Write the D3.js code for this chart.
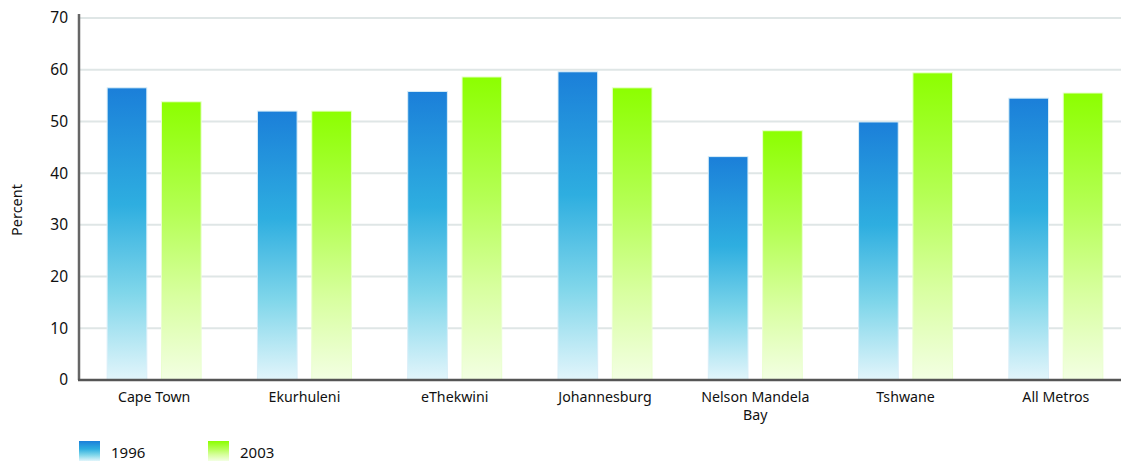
<!DOCTYPE html>
<html><head><meta charset="utf-8">
<script src="https://cdn.jsdelivr.net/npm/d3@7"></script>
<style>body{margin:0;background:#fff}svg{display:block}text{font-family:"Noto Sans","Open Sans",sans-serif;fill:#111}</style>
</head><body><svg id="c" width="1121" height="462"></svg>
<script>
const categories = ["Cape Town","Ekurhuleni","eThekwini","Johannesburg","Nelson Mandela Bay","Tshwane","All Metros"];
const series = ["1996","2003"];
const values1996 = [56.5, 52.0, 55.8, 59.6, 43.2, 49.9, 54.5];
const values2003 = [53.8, 52.0, 58.6, 56.5, 48.2, 59.4, 55.5];
const yTicks = [0,10,20,30,40,50,60,70];

(function(){
const svg = d3.select("#c");
const pL = 79, pR = 1131, pT = 18, pB = 380;
const x = d3.scaleBand().domain(categories).range([pL, pR]);
const y = d3.scaleLinear().domain([0,70]).range([pB, pT]);
const sub = d3.scaleBand().domain(series).range([-47, 47]).paddingInner(0.27);

const defs = svg.append("defs");
const g1 = defs.append("linearGradient").attr("id","g1996").attr("x1",0).attr("y1",0).attr("x2",0).attr("y2",1);
[[0,"#1b7fd9"],[0.4,"#2eaee0"],[0.7,"#7fd6ea"],[1,"#e2f5fb"]].forEach(s=>g1.append("stop").attr("offset",s[0]).attr("stop-color",s[1]));
const g2 = defs.append("linearGradient").attr("id","g2003").attr("x1",0).attr("y1",0).attr("x2",0).attr("y2",1);
[[0,"#8cff00"],[0.4,"#b5ff55"],[0.7,"#d8ffa0"],[1,"#f3ffe3"]].forEach(s=>g2.append("stop").attr("offset",s[0]).attr("stop-color",s[1]));

svg.append("g").selectAll("line").data(yTicks.filter(d=>d>0)).join("line")
  .attr("x1", pL).attr("x2", 1121).attr("y1", d=>y(d)).attr("y2", d=>y(d))
  .attr("stroke","#dfe6e6").attr("stroke-width",2);

const data = [values1996, values2003];
series.forEach((s, si) => {
  svg.append("g").selectAll("rect").data(categories).join("rect")
    .attr("x", c => x(c) + x.bandwidth()/2 + sub(s))
    .attr("width", sub.bandwidth())
    .attr("y", (c,i) => y(data[si][i]))
    .attr("height", (c,i) => y(0) - y(data[si][i]))
    .attr("fill", `url(#g${s})`)
    .attr("stroke", si===0 ? "#d8eef8" : "#eaffd0").attr("stroke-width",1);
});

const ya = svg.append("g").attr("transform",`translate(${pL},0)`)
  .call(d3.axisLeft(y).tickValues(yTicks).tickSize(0).tickPadding(11));
ya.select(".domain").attr("stroke","#666").attr("stroke-width",2.5).attr("d",`M0,${pT-4}V${pB}`);
ya.selectAll("text").attr("font-size",15.5).attr("fill","#111").attr("font-family","'Noto Sans','Open Sans',sans-serif");

const xa = svg.append("g").attr("transform",`translate(0,${pB})`)
  .call(d3.axisBottom(x).tickSize(0).tickPadding(12));
xa.select(".domain").attr("stroke","#555").attr("stroke-width",2.5).attr("d",`M${pL-1},0H1121`);
xa.selectAll("text").attr("font-size",14.2).attr("fill","#111").attr("font-family","'Noto Sans','Open Sans',sans-serif")
  .each(function(d){
    if (d === "Nelson Mandela Bay") {
      const t = d3.select(this); t.text(null);
      t.append("tspan").attr("x",0).attr("dy","0.71em").text("Nelson Mandela");
      t.append("tspan").attr("x",0).attr("dy","1.25em").text("Bay");
      t.attr("dy",null);
    }
  });

svg.append("text").attr("transform","translate(22,210) rotate(-90)").attr("text-anchor","middle")
  .attr("font-size",14.5).text("Percent");

const leg = svg.append("g");
series.forEach((s,i)=>{
  const lx = 79 + i*129;
  leg.append("rect").attr("x",lx).attr("y",441).attr("width",21).attr("height",20).attr("fill",`url(#g${s})`);
  leg.append("text").attr("x",lx+32).attr("y",458).attr("font-size",15).text(s);
});
})();
</script></body></html>
